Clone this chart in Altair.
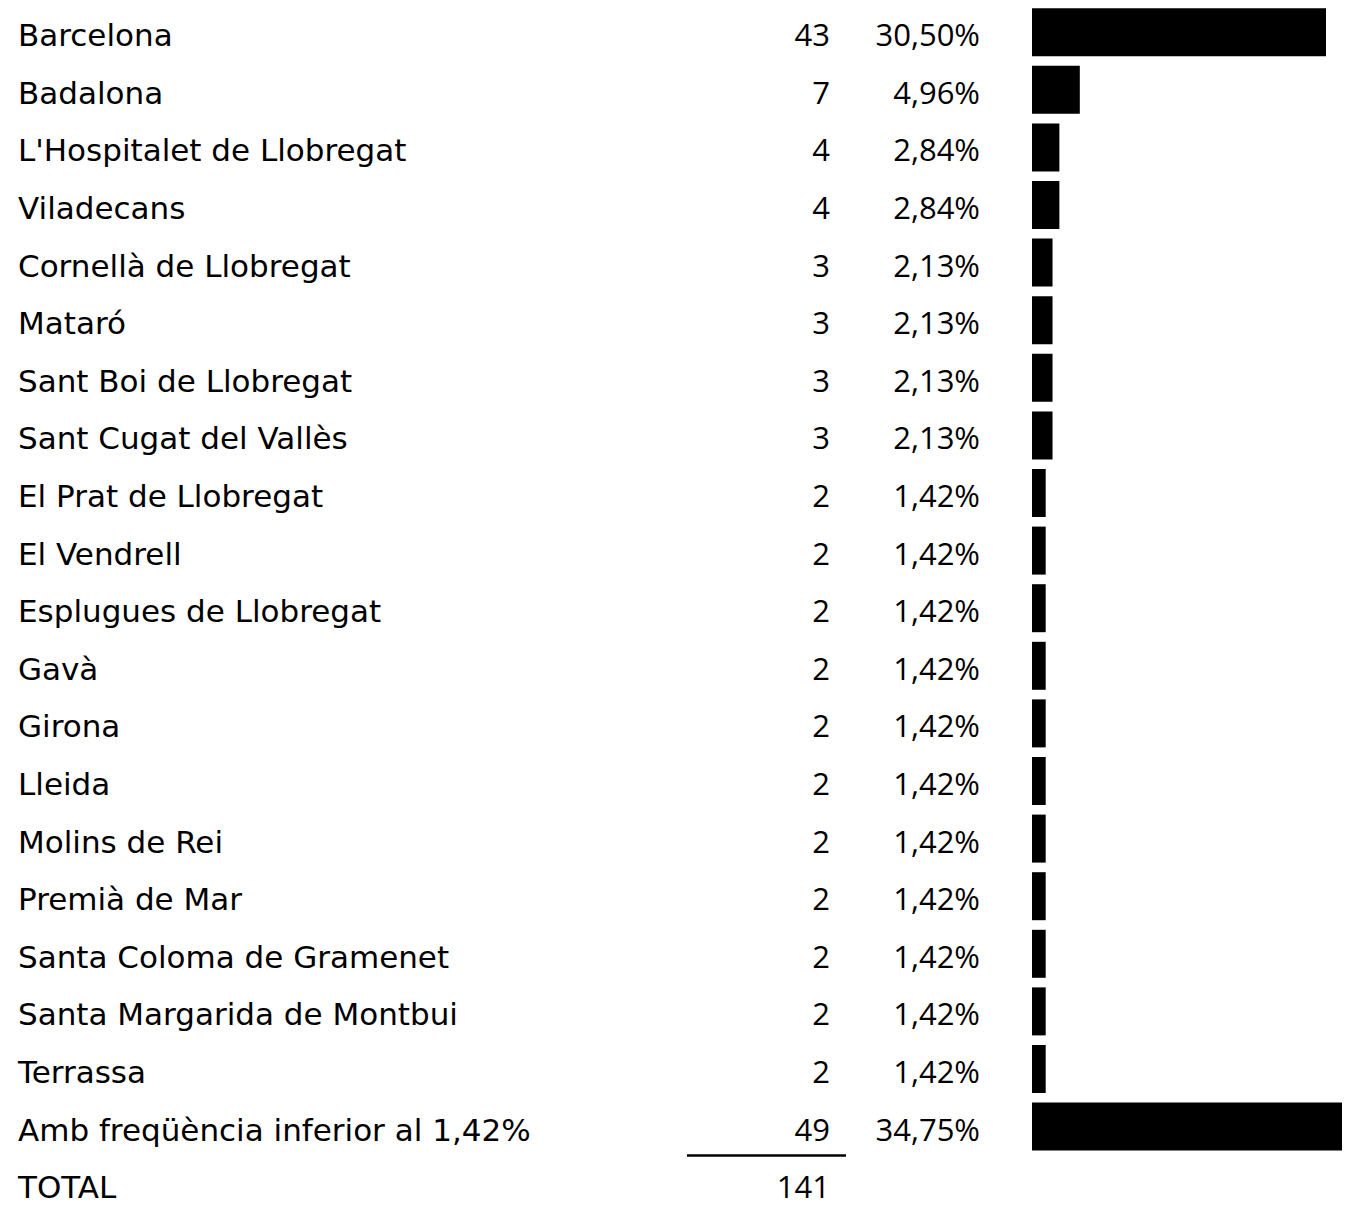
import altair as alt
import pandas as pd

names = [
    "Barcelona", "Badalona", "L'Hospitalet de Llobregat", "Viladecans",
    "Cornellà de Llobregat", "Mataró", "Sant Boi de Llobregat",
    "Sant Cugat del Vallès", "El Prat de Llobregat", "El Vendrell",
    "Esplugues de Llobregat", "Gavà", "Girona", "Lleida", "Molins de Rei",
    "Premià de Mar", "Santa Coloma de Gramenet", "Santa Margarida de Montbui",
    "Terrassa", "Amb freqüència inferior al 1,42%",
]
counts = [43, 7, 4, 4, 3, 3, 3, 3, 2, 2, 2, 2, 2, 2, 2, 2, 2, 2, 2, 49]
pcts = [30.50, 4.96, 2.84, 2.84, 2.13, 2.13, 2.13, 2.13, 1.42, 1.42,
        1.42, 1.42, 1.42, 1.42, 1.42, 1.42, 1.42, 1.42, 1.42, 34.75]
total_label = "TOTAL"
total_count = 141

rows = list(range(len(names)))
df = pd.DataFrame({
    "row": rows,
    "name": names,
    "count": [str(c) for c in counts],
    "pct": pcts,
    "pct_label": [f"{p:.2f}".replace(".", ",") + "%" for p in pcts],
})
df_total = pd.DataFrame({"row": [len(names)], "name": [total_label],
                         "count": [str(total_count)]})
df_all = pd.concat([df[["row", "name", "count"]], df_total], ignore_index=True)
df_rule = pd.DataFrame({"row": [len(names) - 0.5]})

LABEL_FONT = "DejaVu Sans"
NUM_FONT = "Open Sans"
W, H = 1334, 1199
n_rows = len(names)
y0, step = 19.2, 58.1
yscale = alt.Scale(domain=[0, n_rows], range=[y0, y0 + step * n_rows])
Y = alt.Y("row:Q", scale=yscale, axis=None)

labels = alt.Chart(df_all).mark_text(
    align="left", baseline="middle", font=LABEL_FONT, fontSize=31, color="black", dy=5
).encode(x=alt.value(10), y=Y, text="name:N")

count_txt = alt.Chart(df_all).mark_text(
    align="right", baseline="middle", font=NUM_FONT, fontSize=31, color="black", dy=5
).encode(x=alt.value(822), y=Y, text="count:N")

pct_txt = alt.Chart(df).mark_text(
    align="right", baseline="middle", font=NUM_FONT, fontSize=31, color="black", dy=5
).encode(x=alt.value(972), y=Y, text="pct_label:N")

bars = alt.Chart(df).mark_bar(
    orient="horizontal", size=48, color="black", clip=True
).encode(
    x=alt.X("pct:Q", scale=alt.Scale(domain=[0, 30.5], range=[1024, 1318]), axis=None),
    y=Y,
)

rule = alt.Chart(df_rule).mark_rule(color="black", strokeWidth=2.5).encode(
    x=alt.value(679), x2=alt.value(838), y=Y
)

chart = alt.layer(labels, count_txt, pct_txt, bars, rule).properties(
    width=W, height=H,
    autosize=alt.AutoSizeParams(type="none"),
    padding=0,
).configure_view(stroke=None)

chart.save("out.html", embed_options={"renderer": "svg", "actions": False})
